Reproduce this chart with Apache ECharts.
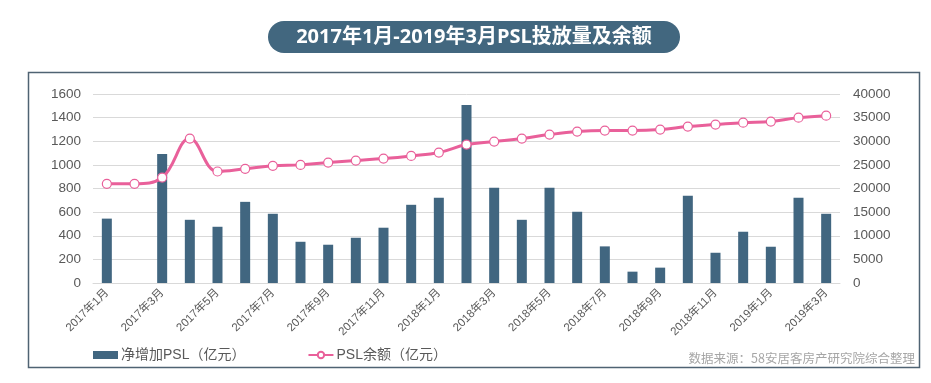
<!DOCTYPE html>
<html>
<head>
<meta charset="utf-8">
<script src="https://cdn.jsdelivr.net/npm/echarts@6/dist/echarts.min.js"></script>
<style>html,body{margin:0;padding:0;background:#fff;}#c{width:931px;height:383px;}</style>
</head>
<body>
<div id="c"></div>
<script>
const categories = ['2017年1月','2017年2月','2017年3月','2017年4月','2017年5月','2017年6月','2017年7月','2017年8月','2017年9月','2017年10月','2017年11月','2017年12月','2018年1月','2018年2月','2018年3月','2018年4月','2018年5月','2018年6月','2018年7月','2018年8月','2018年9月','2018年10月','2018年11月','2018年12月','2019年1月','2019年2月','2019年3月'];
const netIncrease = [545,0,1093,535,476,687,586,349,324,383,468,662,721,1507,806,535,806,603,310,96,130,738,256,434,307,721,586];
const balance = [21000,21000,22320,30560,23600,24160,24790,25000,25490,25920,26340,26900,27610,29300,29930,30560,31410,32040,32250,32250,32470,33100,33520,33940,34160,35000,35420];
const leftTicks = {min:0,max:1600,interval:200};
const rightTicks = {min:0,max:40000,interval:5000};
const titleText = '2017年1月-2019年3月PSL投放量及余额';
const sourceText = '数据来源：58安居客房产研究院综合整理';
const seriesNames = ['净增加PSL（亿元）','PSL余额（亿元）'];

const FONT = '"Liberation Sans","Noto Sans CJK SC",sans-serif';
const plain = v => String(v);
const chart = echarts.init(document.getElementById('c'), null, {renderer:'canvas'});
chart.setOption({
  animation:false,
  backgroundColor:'#fff',
  textStyle:{fontFamily:FONT},
  grid:{left:93,right:91,top:94,bottom:100,containLabel:false},
  legend:{
    left:88, top:343, itemGap:62, itemWidth:25, itemHeight:8,
    textStyle:{fontSize:14,color:'#595959',fontFamily:FONT,padding:[0,0,0,-2]},
    data:[{name:seriesNames[0],icon:'rect'},{name:seriesNames[1]}]
  },
  xAxis:{
    type:'category', data:categories, boundaryGap:true,
    axisLine:{lineStyle:{color:'#d9d9d9'}},
    axisTick:{interval:1,length:5,lineStyle:{color:'#d9d9d9'}},
    axisLabel:{interval:1,rotate:45,fontSize:11.5,color:'#595959',margin:8,fontFamily:FONT}
  },
  yAxis:[
    {type:'value',min:leftTicks.min,max:leftTicks.max,interval:leftTicks.interval,
     axisLine:{show:false},axisTick:{show:false},
     axisLabel:{fontSize:13.5,color:'#595959',margin:12,fontFamily:FONT,formatter:plain},
     splitLine:{lineStyle:{color:'#d9d9d9'}}},
    {type:'value',min:rightTicks.min,max:rightTicks.max,interval:rightTicks.interval,
     axisLine:{show:false},axisTick:{show:false},
     axisLabel:{fontSize:13.5,color:'#595959',margin:13,fontFamily:FONT,formatter:plain},
     splitLine:{show:false}}
  ],
  series:[
    {name:seriesNames[0],type:'bar',data:netIncrease,barWidth:10,yAxisIndex:0,
     itemStyle:{color:'#416680'}},
    {name:seriesNames[1],type:'line',data:balance,yAxisIndex:1,smooth:0.4,
     symbol:'circle',symbolSize:9,
     lineStyle:{color:'#E9609A',width:3},
     itemStyle:{color:'#ffffff',borderColor:'#E9609A',borderWidth:1.2}}
  ],
  graphic:[
    {type:'rect',shape:{x:28.5,y:72.5,width:891,height:295},
     style:{fill:'none',stroke:'#4f6373',lineWidth:1.5},z:-1,silent:true},
    {type:'rect',shape:{x:268,y:21,width:412,height:32,r:16},
     style:{fill:'#42677f'},silent:true},
    {type:'text',x:474,y:37,
     style:{text:titleText,fill:'#ffffff',font:'bold 20px "Open Sans","Noto Sans CJK SC",sans-serif',
            textAlign:'center',textVerticalAlign:'middle'},silent:true},
    {type:'text',x:915,y:358,
     style:{text:sourceText,fill:'#a6a6a6',font:'12.5px "Noto Sans CJK SC",sans-serif',
            textAlign:'right',textVerticalAlign:'middle'},silent:true}
  ]
});
</script>
</body>
</html>
